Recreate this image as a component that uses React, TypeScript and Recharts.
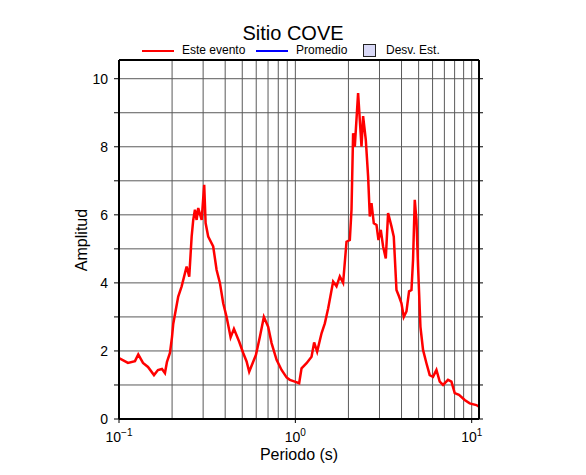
import React from 'react'
import {
  LineChart,
  Line,
  XAxis,
  YAxis,
  ReferenceLine,
} from 'recharts'

// ─── Data ─────────────────────────────────────────────────────────────────────

const periods = [
  0.1, 0.1124, 0.1232, 0.1286, 0.1368, 0.146, 0.1579, 0.1663, 0.1752, 0.1822,
  0.1871, 0.1945, 0.1997, 0.2031, 0.2167, 0.2266, 0.2418, 0.2502, 0.2582, 0.2636,
  0.2695, 0.2755, 0.2814, 0.2942, 0.3042, 0.3098, 0.3205, 0.3421, 0.3577, 0.3734,
  0.3899, 0.4075, 0.4295, 0.4484, 0.4804, 0.5061, 0.5291, 0.5473, 0.5722, 0.5974,
  0.6294, 0.663, 0.7013, 0.7331, 0.7826, 0.8354, 0.8917, 0.9307, 0.9935, 1.0508,
  1.0842, 1.1574, 1.2355, 1.278, 1.3291, 1.4077, 1.4697, 1.5344, 1.6378, 1.7118,
  1.7871, 1.8658, 1.9504, 2.0363, 2.0818, 2.1259, 2.1734, 2.2691, 2.3722, 2.422,
  2.5089, 2.5855, 2.6434, 2.7025, 2.7853, 2.8851, 2.9612, 3.0514, 3.1447, 3.2572,
  3.3566, 3.5075, 3.6149, 3.7443, 3.8735, 3.9967, 4.1188, 4.2658, 4.4136, 4.5541,
  4.6497, 4.7545, 4.861, 4.9638, 5.121, 5.2983, 5.5376, 5.781, 6.035, 6.1711,
  6.3096, 6.5877, 6.8778, 7.3397, 7.6736, 8.0112, 8.4723, 9.1268, 9.7432, 10.632,
  11.0,
]

const esteEvento = [
  1.79, 1.65, 1.7, 1.9, 1.65, 1.53, 1.29, 1.44, 1.47, 1.35,
  1.68, 1.94, 2.4, 2.8, 3.6, 3.9, 4.48, 4.18, 5.36, 5.85,
  6.15, 5.85, 6.2, 5.85, 6.88, 5.76, 5.36, 5.07, 4.38, 4.0,
  3.4, 3.0, 2.4, 2.65, 2.27, 1.94, 1.69, 1.39, 1.64, 1.88,
  2.42, 3.0, 2.71, 2.23, 1.74, 1.44, 1.22, 1.15, 1.1, 1.05,
  1.49, 1.64, 1.83, 2.25, 1.98, 2.52, 2.81, 3.25, 4.04, 3.9,
  4.19, 4.0, 5.21, 5.26, 6.15, 8.4, 8.0, 9.58, 8.0, 8.9,
  8.2, 7.13, 5.95, 6.34, 5.75, 5.7, 5.26, 5.56, 5.07, 4.72,
  6.05, 5.66, 5.36, 3.79, 3.6, 3.4, 3.0, 3.16, 3.75, 3.79,
  4.68, 6.44, 5.85, 4.48, 2.71, 2.03, 1.64, 1.29, 1.24, 1.34,
  1.44, 1.1, 1.0, 1.15, 1.1, 0.76, 0.71, 0.56, 0.46, 0.41,
  0.36,
]

const xTicks = [0.1, 1, 10]
const xGrid = [0.2, 0.3, 0.4, 0.5, 0.6, 0.7, 0.8, 0.9, 1, 2, 3, 4, 5, 6, 7, 8, 9, 10]
const yTicks = [0, 1, 2, 3, 4, 5, 6, 7, 8, 9, 10]
const yGrid = [1, 2, 3, 4, 5, 6, 7, 8, 9, 10]

const legendItems = [
  { name: 'Este evento', kind: 'line', color: '#ff0000' },
  { name: 'Promedio', kind: 'line', color: '#0000ff' },
  { name: 'Desv. Est.', kind: 'box', color: '#d9d9f7' },
]

const data = periods.map((p, i) => ({ period: p, amp: esteEvento[i] }))

const FONT = '"Liberation Sans", Arial, Helvetica, sans-serif'
const GRID = '#5a5a5a'

// ─── Ticks ────────────────────────────────────────────────────────────────────

function PowerTick(props: any) {
  const { x, y, payload } = props
  const exp = Math.round(Math.log10(payload.value))
  const expText = exp < 0 ? `\u2212${-exp}` : `${exp}`
  return (
    <text x={x} y={y + 15} textAnchor="middle" fontSize={14} fontFamily={FONT} fill="#000">
      <tspan>10</tspan>
      <tspan dy={-6} fontSize={10}>{expText}</tspan>
    </text>
  )
}

// ─── Chart ────────────────────────────────────────────────────────────────────

export default function App() {
  const legendLeft = [142, 256, 363]
  return (
    <div style={{ position: 'absolute', left: 0, top: 0, width: 586, height: 475, background: '#fff', fontFamily: FONT }}>
      <div style={{ position: 'absolute', left: 0, width: 586, top: 24, textAlign: 'center', fontSize: 20, lineHeight: '18px', color: '#000' }}>
        Sitio COVE
      </div>

      {legendItems.map((item, i) => (
        <div
          key={item.name}
          style={{ position: 'absolute', left: legendLeft[i], top: 45, height: 11, display: 'flex', alignItems: 'center', fontSize: 12, lineHeight: '11px' }}
        >
          {item.kind === 'line' ? (
            <span style={{ display: 'inline-block', width: 32, height: 2, background: item.color, marginRight: 8 }} />
          ) : (
            <span style={{ display: 'inline-block', width: 11, height: 11, background: item.color, border: '1px solid #222', marginRight: 10 }} />
          )}
          <span>{item.name}</span>
        </div>
      ))}

      <div
        style={{
          position: 'absolute',
          left: 82,
          top: 240,
          transform: 'translate(-50%, -50%) rotate(-90deg)',
          fontSize: 16,
          lineHeight: '16px',
          whiteSpace: 'nowrap',
        }}
      >
        Amplitud
      </div>
      <div style={{ position: 'absolute', left: 0, width: 598, top: 447, textAlign: 'center', fontSize: 16, lineHeight: '16px' }}>
        Periodo (s)
      </div>

      <div style={{ position: 'absolute', left: 0, top: 0 }}>
        <LineChart width={586} height={475} data={data} margin={{ top: 50, right: 87, bottom: 26, left: 69 }}>
          {xGrid.map(v => (
            <ReferenceLine key={`x${v}`} x={v} stroke={GRID} strokeWidth={1} />
          ))}
          {yGrid.map(v => (
            <ReferenceLine key={`y${v}`} y={v} stroke={GRID} strokeWidth={1} />
          ))}
          <XAxis
            dataKey="period"
            type="number"
            scale="log"
            domain={[0.1, 11]}
            allowDataOverflow
            ticks={xTicks}
            height={30}
            tickSize={4}
            tickMargin={4}
            tick={<PowerTick />}
            axisLine={{ stroke: '#000', strokeWidth: 2 }}
            tickLine={{ stroke: '#000' }}
          />
          <XAxis
            xAxisId="top"
            orientation="top"
            type="number"
            scale="log"
            domain={[0.1, 11]}
            allowDataOverflow
            ticks={xTicks}
            height={10}
            tickSize={4}
            tickFormatter={() => ''}
            axisLine={{ stroke: '#000', strokeWidth: 2 }}
            tickLine={{ stroke: '#000' }}
          />
          <YAxis
            type="number"
            domain={[0, 10.55]}
            allowDataOverflow
            ticks={yTicks}
            width={50}
            tickSize={5}
            tickMargin={6}
            tickFormatter={v => (v % 2 === 0 ? String(v) : '')}
            tick={{ fill: '#000', fontSize: 14, fontFamily: FONT }}
            axisLine={{ stroke: '#000', strokeWidth: 2 }}
            tickLine={{ stroke: '#000' }}
          />
          <YAxis
            yAxisId="right"
            orientation="right"
            type="number"
            domain={[0, 10.55]}
            allowDataOverflow
            ticks={yTicks}
            width={20}
            tickSize={4}
            tickFormatter={() => ''}
            axisLine={{ stroke: '#000', strokeWidth: 2 }}
            tickLine={{ stroke: '#000' }}
          />
          <Line
            type="linear"
            dataKey="amp"
            name="Este evento"
            stroke="#ff0000"
            strokeWidth={2.5}
            dot={false}
            isAnimationActive={false}
          />
        </LineChart>
      </div>
    </div>
  )
}
